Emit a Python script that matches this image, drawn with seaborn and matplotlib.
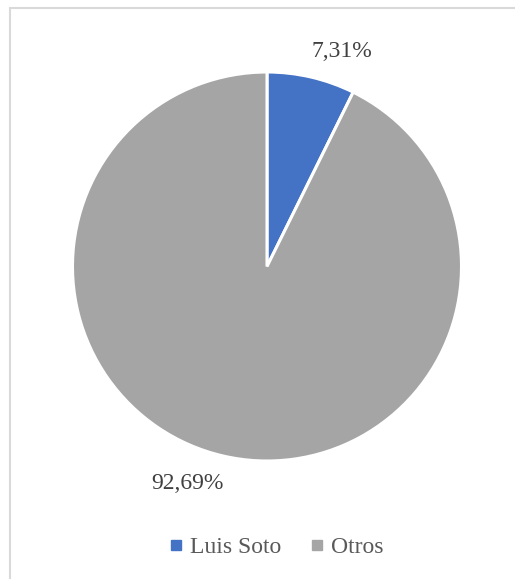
import matplotlib
matplotlib.use("Agg")
import matplotlib.pyplot as plt
import seaborn as sns
import numpy as np
from matplotlib.lines import Line2D

sns.set_style("white")
plt.rcParams['font.family'] = ['Liberation Serif', 'DejaVu Serif']

# Data
categories = ['Luis Soto', 'Otros']
values = [7.31, 92.69]
colors = ['#4472C4', '#A5A5A5']

W, H = 515, 579
fig = plt.figure(figsize=(W / 100, H / 100), dpi=100)

# pie area: center (267, 266.5) px, radius 194.5 px
cx, cy, r = 267, 266.5, 194.5
ax = fig.add_axes([(cx - r) / W, (H - cy - r) / H, 2 * r / W, 2 * r / H])
wedges, _ = ax.pie(values, colors=colors, startangle=90, counterclock=False,
                   radius=1, wedgeprops=dict(edgecolor='white', linewidth=2.2))
ax.set_xlim(-1, 1)
ax.set_ylim(-1, 1)
ax.set_aspect('equal')
ax.axis('off')

# Percent labels placed outside the slices
label_offsets = [(1.173, 19.2), (1.19, 200.1)]  # (distance, angle clockwise from top)
for v, (d, ang) in zip(values, label_offsets):
    a = np.deg2rad(ang)
    ax.text(d * np.sin(a), d * np.cos(a), f"{v:.2f}%".replace('.', ','),
            ha='center', va='center', fontsize=17, color='#404040')

# Legend
handles = [Line2D([0], [0], marker='s', linestyle='', markersize=7,
                  markerfacecolor=c, markeredgecolor=c) for c in colors]
fig.legend(handles, categories, loc='center', bbox_to_anchor=(0.532, 1 - 547 / H),
           ncol=2, frameon=False, fontsize=17, labelcolor='#595959',
           handletextpad=0.1, columnspacing=1.0, handlelength=1.0)

# Chart-area border (left and top visible)
fig.add_artist(Line2D([10 / W, 10 / W], [0, 1 - 8 / H], transform=fig.transFigure,
                      color='#D9D9D9', linewidth=1.5))
fig.add_artist(Line2D([10 / W, 1], [1 - 8 / H, 1 - 8 / H], transform=fig.transFigure,
                      color='#D9D9D9', linewidth=1.5))

fig.savefig("out.png", dpi=100, facecolor='white')
